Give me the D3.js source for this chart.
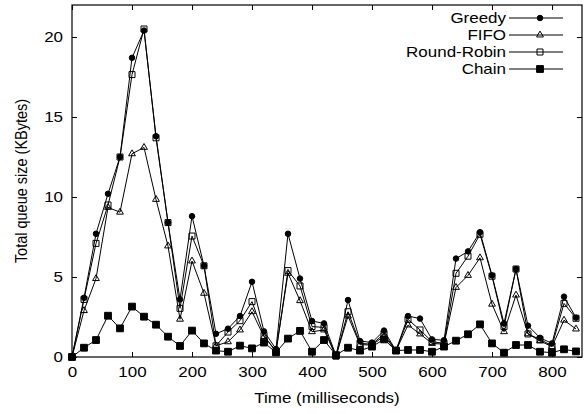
<!DOCTYPE html>
<html>
<head>
<meta charset="utf-8">
<script src="https://cdn.jsdelivr.net/npm/d3@7"></script>
<style>
  body { margin: 0; background: #fff; }
  svg text { font-family: "Liberation Sans", Arial, Helvetica, sans-serif; font-size: 14.5px; fill: #000; }
</style>
</head>
<body>
<svg width="587" height="414"></svg>
<script>
// time in ms, one sample every 20 ms
var times = [0,20,40,60,80,100,120,140,160,180,200,220,240,260,280,300,320,340,360,380,400,420,
             440,460,480,500,520,540,560,580,600,620,640,660,680,700,720,740,760,780,800,820,840];

var greedy = [0,3.7,7.7,10.2,12.5,18.7,20.4,13.8,8.4,3.6,8.8,5.7,1.45,1.77,2.56,4.7,1.6,0.5,7.7,4.9,
              2.25,2.1,0.1,3.56,1.0,0.9,1.65,0.4,2.56,2.4,1.1,1.05,6.15,6.6,7.8,5.1,2.1,5.5,1.96,1.2,0.85,3.77,2.46];
var fifo = [0,2.9,4.9,9.35,9.05,12.7,13.1,9.85,6.94,2.36,6.0,3.98,0.7,0.95,1.69,2.83,1.27,0.4,5.23,3.52,
            1.58,1.69,0.05,2.56,0.77,0.75,1.3,0.4,2.0,1.44,0.85,0.8,4.35,5.1,6.2,3.3,1.58,3.87,1.45,1.0,0.65,2.3,1.75];
var roundRobin = [0,3.6,7.1,9.5,12.5,17.65,20.5,13.7,8.4,3.04,7.56,5.7,0.7,1.56,2.27,3.46,1.35,0.3,5.4,4.44,
                  1.9,1.85,0.05,2.83,0.85,0.8,1.44,0.4,2.35,1.69,0.96,0.85,5.23,6.3,7.67,5.05,1.9,5.5,1.44,1.1,0.7,3.35,2.42];
var chain = [0,0.58,1.06,2.58,1.79,3.15,2.52,2.02,1.27,0.69,1.65,0.85,0.4,0.33,0.71,0.54,0.9,0.29,1.15,1.63,
             0.33,1.06,0.12,0.58,0.4,0.65,1.1,0.4,0.44,0.44,0.33,0.65,1.02,1.42,2.04,0.85,0.27,0.75,0.75,0.33,0.27,0.48,0.35];

var seriesNames = ["Greedy", "FIFO", "Round-Robin", "Chain"];
var xTicks = [0,100,200,300,400,500,600,700,800];
var yTicks = [0,5,10,15,20];

var series = [
  { name: seriesNames[0], values: greedy,     sym: d3.symbolCircle,   size: 24, fill: "#000" },
  { name: seriesNames[1], values: fifo,       sym: d3.symbolTriangle, size: 20, fill: "none" },
  { name: seriesNames[2], values: roundRobin, sym: d3.symbolSquare,   size: 36, fill: "none" },
  { name: seriesNames[3], values: chain,      sym: d3.symbolSquare,   size: 46, fill: "#000" }
];

// the original text is a bit wider than Liberation Sans
var stretch = 1.17;

var svg = d3.select("svg");
var margin = { left: 72, right: 5, top: 5, bottom: 57 };
var width = 587 - margin.left - margin.right,
    height = 414 - margin.top - margin.bottom;

var x = d3.scaleLinear().domain([0, 850]).range([0, width]);
var y = d3.scaleLinear().domain([0, 22]).range([height, 0]);

var g = svg.append("g").attr("transform", "translate(" + margin.left + "," + margin.top + ")");

// ticks, gnuplot style: inward and mirrored
var tl = 5;
g.append("g").attr("transform", "translate(0," + height + ")")
  .call(d3.axisBottom(x).tickValues(xTicks).tickSizeInner(-tl).tickSizeOuter(0).tickPadding(10))
  .call(function(a) {
    a.select(".domain").remove();
    a.selectAll("text").attr("dy", "0.71em").style("font-size", "14.5px")
      .attr("transform", "scale(" + stretch + ",1)");
  });
g.append("g")
  .call(d3.axisTop(x).tickValues(xTicks).tickSizeInner(-tl).tickSizeOuter(0).tickFormat(""))
  .call(function(a) { a.select(".domain").remove(); });
g.append("g")
  .call(d3.axisLeft(y).tickValues(yTicks).tickSizeInner(-tl).tickSizeOuter(0))
  .call(function(a) {
    a.select(".domain").remove();
    a.selectAll("text").style("font-size", "14.5px")
      .attr("x", -9 / stretch)
      .attr("transform", "scale(" + stretch + ",1)");
  });
g.append("g").attr("transform", "translate(" + width + ",0)")
  .call(d3.axisRight(y).tickValues(yTicks).tickSizeInner(-tl).tickSizeOuter(0).tickFormat(""))
  .call(function(a) { a.select(".domain").remove(); });

g.selectAll(".tick line").attr("stroke", "#000");

// frame
g.append("rect")
  .attr("width", width).attr("height", height)
  .attr("fill", "none").attr("stroke", "#000").attr("stroke-width", 1.2);

var line = d3.line()
  .x(function(d, i) { return x(times[i]); })
  .y(function(d) { return y(d); });

series.forEach(function(s) {
  g.append("path")
    .datum(s.values)
    .attr("fill", "none")
    .attr("stroke", "#000")
    .attr("stroke-width", 1)
    .attr("d", line);

  g.selectAll(null)
    .data(s.values)
    .enter().append("path")
      .attr("transform", function(d, i) { return "translate(" + x(times[i]) + "," + y(d) + ")"; })
      .attr("d", d3.symbol().type(s.sym).size(s.size))
      .attr("fill", s.fill)
      .attr("stroke", "#000")
      .attr("stroke-width", 1);
});

// legend
var leg = svg.append("g").attr("transform", "translate(506,18)");
series.forEach(function(s, i) {
  var row = leg.append("g").attr("transform", "translate(0," + (i * 17) + ")");
  row.append("text")
    .attr("text-anchor", "end")
    .attr("dy", "0.35em")
    .attr("transform", "scale(" + stretch + ",1)")
    .text(s.name);
  row.append("line")
    .attr("x1", 3).attr("x2", 57)
    .attr("stroke", "#000").attr("stroke-width", 1);
  row.append("path")
    .attr("transform", "translate(34,0)")
    .attr("d", d3.symbol().type(s.sym).size(s.size))
    .attr("fill", s.fill)
    .attr("stroke", "#000");
});

// axis titles
svg.append("text")
  .attr("transform", "translate(" + (margin.left + width / 2) + ",403) scale(" + stretch + ",1)")
  .attr("text-anchor", "middle")
  .text("Time (milliseconds)");

svg.append("text")
  .attr("transform", "translate(27," + (margin.top + height / 2) + ") rotate(-90) scale(1," + stretch + ")")
  .attr("text-anchor", "middle")
  .text("Total queue size (KBytes)");
</script>
</body>
</html>
